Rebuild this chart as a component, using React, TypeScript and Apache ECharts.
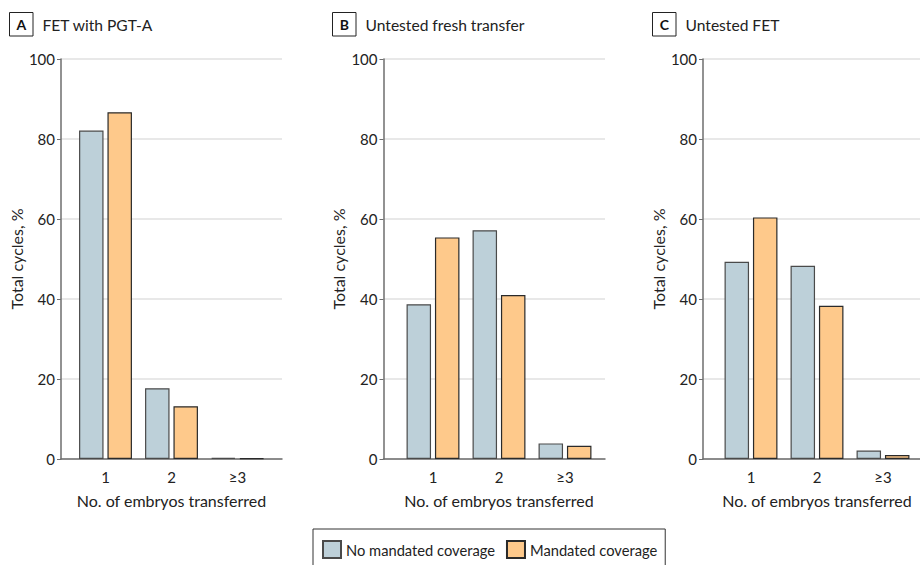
import React, { useEffect, useRef } from "react";
import * as echarts from "echarts";

const categories = ["1", "2", "≥3"];
const panelLetters = ["A", "B", "C"];
const panelTitles = ["FET with PGT-A", "Untested fresh transfer", "Untested FET"];
const seriesNames = ["No mandated coverage", "Mandated coverage"];
const noMandated = [
  [82.1, 17.7, 0.3],
  [38.7, 57.2, 3.9],
  [49.3, 48.3, 2.1],
];
const mandated = [
  [86.7, 13.2, 0.2],
  [55.4, 41.0, 3.3],
  [60.4, 38.3, 1.0],
];
const yTicks = [0, 20, 40, 60, 80, 100];

const FONT = "Lato";
const BLUE = "#bdd0d9";
const ORANGE = "#fec98b";

// layout (pixels)
const outerLeft = [61, 383.5, 703];
const outerWidth = [221, 221.5, 217];
const innerLeft = [72.5, 400, 718];
const innerWidth = 198;
const gridTop = 59;
const gridHeight = 400;
const boxLeft = [9.5, 332.5, 652.5];

export default function App() {
  const ref = useRef<HTMLDivElement>(null);
  useEffect(() => {
    if (!ref.current) return;
    const chart = echarts.init(ref.current, undefined, { renderer: "svg" });
    const grids: any[] = [];
    const xAxes: any[] = [];
    const yAxes: any[] = [];
    const series: any[] = [];
    const graphics: any[] = [];
    for (let p = 0; p < 3; p++) {
      grids.push({ left: outerLeft[p], top: gridTop, width: outerWidth[p], height: gridHeight });
      grids.push({ left: innerLeft[p], top: gridTop, width: innerWidth, height: gridHeight });
      xAxes.push({
        gridIndex: p * 2,
        type: "value",
        min: 0,
        max: 1,
        axisLine: { show: true, lineStyle: { color: "#6e6e6e", width: 1.5 } },
        axisTick: { show: false },
        axisLabel: { show: false },
        splitLine: { show: false },
      });
      xAxes.push({
        gridIndex: p * 2 + 1,
        type: "category",
        data: categories,
        axisLine: { show: false },
        axisTick: { show: false },
        axisLabel: { color: "#222", fontFamily: FONT, fontSize: 15, margin: 10 },
        name: "No. of embryos transferred",
        nameLocation: "middle",
        nameGap: 33,
        nameTextStyle: { color: "#222", fontFamily: FONT, fontSize: 16 },
      });
      yAxes.push({
        gridIndex: p * 2,
        type: "value",
        min: 0,
        max: 100,
        interval: 20,
        axisLine: { show: true, lineStyle: { color: "#6e6e6e", width: 1.5 } },
        axisTick: { show: true, length: 4, lineStyle: { color: "#6e6e6e", width: 1 } },
        axisLabel: { color: "#222", fontFamily: FONT, fontSize: 15, margin: 6 },
        splitLine: { show: true, lineStyle: { color: "#e0e0e0", width: 1.5 } },
        name: "Total cycles, %",
        nameLocation: "middle",
        nameGap: 37,
        nameTextStyle: { color: "#222", fontFamily: FONT, fontSize: 16 },
      });
      yAxes.push({
        gridIndex: p * 2 + 1,
        type: "value",
        min: 0,
        max: 100,
        show: false,
      });
      series.push({
        name: seriesNames[0],
        type: "bar",
        xAxisIndex: p * 2 + 1,
        yAxisIndex: p * 2 + 1,
        data: noMandated[p],
        barWidth: 24.5,
        barGap: "16%",
        itemStyle: { color: BLUE, borderColor: "#4a4a4a", borderWidth: 1.2 },
      });
      series.push({
        name: seriesNames[1],
        type: "bar",
        xAxisIndex: p * 2 + 1,
        yAxisIndex: p * 2 + 1,
        data: mandated[p],
        barWidth: 24.5,
        barGap: "16%",
        itemStyle: { color: ORANGE, borderColor: "#2a2a2a", borderWidth: 1.2 },
      });
      graphics.push({
        type: "rect",
        shape: { x: boxLeft[p], y: 12.5, width: 23.5, height: 23.5 },
        style: { fill: "#fff", stroke: "#222", lineWidth: 1 },
      });
      graphics.push({
        type: "text",
        x: boxLeft[p] + 11.75,
        y: 24.5,
        style: {
          text: panelLetters[p],
          fill: "#111",
          font: `bold 14px ${FONT}`,
          textAlign: "center",
          textVerticalAlign: "middle",
        },
      });
      graphics.push({
        type: "text",
        x: boxLeft[p] + 33,
        y: 24.5,
        style: {
          text: panelTitles[p],
          fill: "#222",
          font: `15.6px ${FONT}`,
          textAlign: "left",
          textVerticalAlign: "middle",
        },
      });
    }
    chart.setOption({
      animation: false,
      backgroundColor: "#fff",
      grid: grids,
      xAxis: xAxes,
      yAxis: yAxes,
      series,
      graphic: graphics,
      legend: {
        data: seriesNames,
        left: 313,
        top: 529,
        orient: "horizontal",
        icon: "rect",
        itemWidth: 18,
        itemHeight: 17,
        itemGap: 11,
        padding: [11, 8, 11, 9],
        borderColor: "#333",
        borderWidth: 1,
        borderRadius: 0,
        textStyle: { color: "#222", fontFamily: FONT, fontSize: 14.7 },
        selectedMode: false,
      },
    });
    return () => chart.dispose();
  }, []);
  return <div ref={ref} style={{ width: 920, height: 565, position: "absolute", left: 0, top: 0 }} />;
}
